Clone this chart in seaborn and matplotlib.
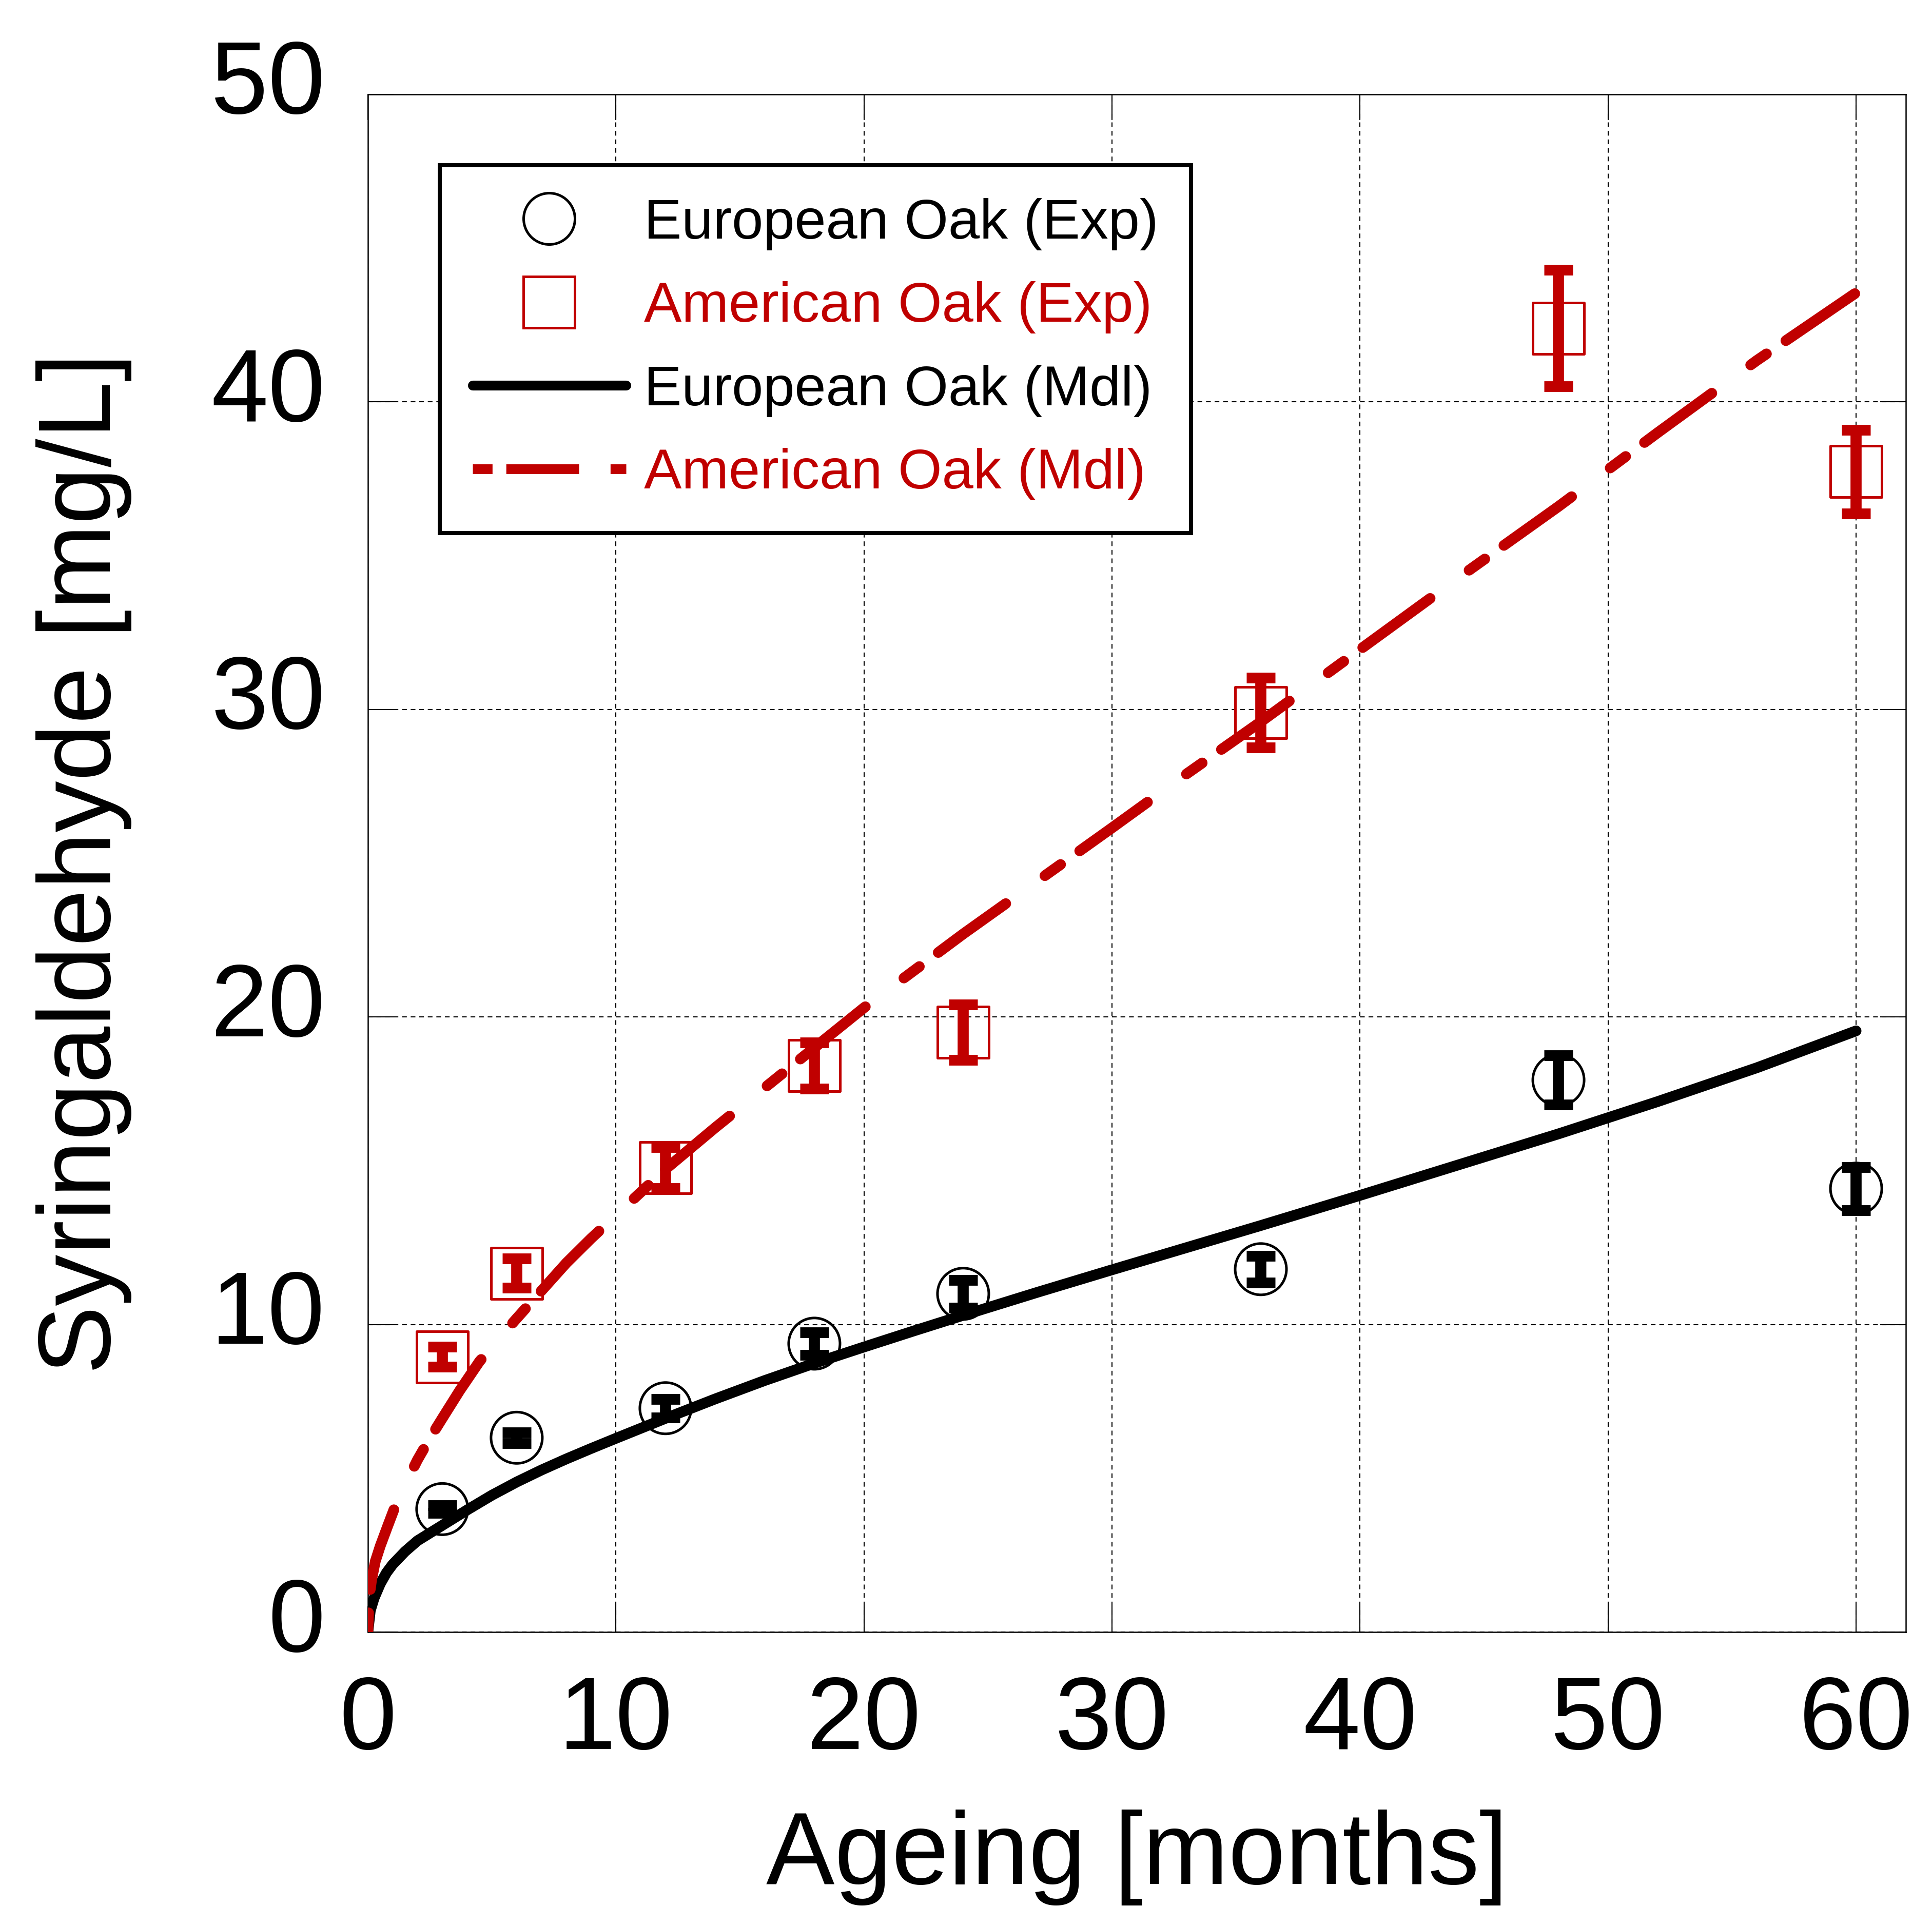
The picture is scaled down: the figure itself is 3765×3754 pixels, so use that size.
import numpy as np
import pandas as pd
import matplotlib

matplotlib.use("Agg")
import matplotlib.pyplot as plt
import matplotlib.transforms as mtransforms
from matplotlib.lines import Line2D
import seaborn as sns

# --- experimental data (mean +/- error) ---
months = [3, 6, 12, 18, 24, 36, 48, 60]
eu_exp = [4.0, 6.32, 7.28, 9.38, 11.0, 11.8, 17.95, 14.42]
eu_err = [0.13, 0.18, 0.3, 0.37, 0.45, 0.43, 0.8, 0.7]
am_exp = [8.95, 11.67, 15.1, 18.42, 19.5, 29.9, 42.4, 37.73]
am_err = [0.32, 0.48, 0.67, 0.75, 0.9, 1.13, 1.9, 1.36]

# --- model curves ---
eu_mdl_t = [0, 0.1, 0.25, 0.5, 0.75, 1, 1.5, 2, 2.5, 3, 4, 5, 6, 7, 8, 9,
            10, 12, 14, 16, 18, 20, 22, 24, 27, 30, 33, 36, 40, 44, 48, 52,
            56, 60]
eu_mdl_y = [0, 0.7, 1.1, 1.57, 1.93, 2.2, 2.62, 2.97, 3.22, 3.47, 3.97,
            4.45, 4.88, 5.27, 5.63, 5.97, 6.3, 6.95, 7.58, 8.18, 8.74, 9.27,
            9.79, 10.3, 11.05, 11.78, 12.5, 13.22, 14.2, 15.2, 16.2, 17.25,
            18.35, 19.55]
am_mdl_t = [0, 0.05, 0.15, 0.3, 0.5, 0.8, 1.2, 1.6, 2, 2.5, 3, 3.7, 4.5,
            5.4, 6, 7, 8, 9, 10, 11, 12, 14, 16, 18, 20, 22, 24, 26, 28, 30,
            33, 36, 40, 44, 48, 52, 56, 60]
am_mdl_y = [0, 1.1, 1.7, 2.3, 2.8, 3.45, 4.3, 4.95, 5.6, 6.3, 6.95, 7.85,
            8.8, 9.65, 10.2, 11.1, 12.0, 12.8, 13.55, 14.3, 15.05, 16.4,
            17.7, 19.0, 20.3, 21.5, 22.7, 23.85, 25.0, 26.15, 27.9, 29.6,
            31.95, 34.3, 36.6, 39.0, 41.35, 43.55]

x_ticks = [0, 10, 20, 30, 40, 50, 60]
y_ticks = [0, 10, 20, 30, 40, 50]

RED = "#C00000"
BLACK = "#000000"
RED_DASH = (0, (1.8, 2.2, 7.8, 4.5))

sns.set_theme(style="white")
plt.rcParams["font.family"] = ["Liberation Sans", "DejaVu Sans"]

fig = plt.figure(figsize=(3765 / 300, 3754 / 300), dpi=300)
ax = fig.add_axes([0.1904, 0.1526, 0.7960, 0.7984])

df_exp = pd.DataFrame({"t": months, "eu": eu_exp, "eu_err": eu_err,
                       "am": am_exp, "am_err": am_err})
df_eu = pd.DataFrame({"t": eu_mdl_t, "y": eu_mdl_y})
df_am = pd.DataFrame({"t": am_mdl_t, "y": am_mdl_y})

# markers
sns.scatterplot(data=df_exp, x="t", y="eu", marker="o", s=24 ** 2,
                color=BLACK, facecolor="none", edgecolor=BLACK,
                linewidth=1.2, zorder=3, ax=ax)
sns.scatterplot(data=df_exp, x="t", y="am", marker="s", s=24 ** 2,
                color=RED, facecolor="none", edgecolor=RED,
                linewidth=1.2, zorder=3, ax=ax)

# error bars
ax.errorbar(df_exp["t"], df_exp["eu"], yerr=df_exp["eu_err"], fmt="none",
            ecolor=BLACK, elinewidth=5.2, capsize=6.7, capthick=5.0, zorder=4)
ax.errorbar(df_exp["t"], df_exp["am"], yerr=df_exp["am_err"], fmt="none",
            ecolor=RED, elinewidth=5.2, capsize=6.7, capthick=5.0, zorder=4)

# model lines
sns.lineplot(data=df_eu, x="t", y="y", color=BLACK, linewidth=5.0,
             solid_capstyle="round", solid_joinstyle="round", sort=False,
             estimator=None, zorder=5, ax=ax)
sns.lineplot(data=df_am, x="t", y="y", color=RED, linewidth=5.0,
             linestyle=RED_DASH, dash_capstyle="round",
             dash_joinstyle="round", sort=False, estimator=None, zorder=6,
             ax=ax)

ax.set_xlim(0, 62)
ax.set_ylim(0, 50)
ax.set_xticks(x_ticks)
ax.set_yticks(y_ticks)
ax.set_xticklabels([str(v) for v in x_ticks])
ax.set_yticklabels([str(v) for v in y_ticks])

ax.grid(True, color="black", linewidth=0.5, linestyle=(0, (4.4, 3.6)))
ax.set_axisbelow(True)
for sp in ax.spines.values():
    sp.set_visible(True)
    sp.set_color("black")
    sp.set_linewidth(0.6)

ax.tick_params(axis="both", direction="in", length=12, width=0.5,
               colors="black", labelsize=48, pad=20,
               top=True, right=True, bottom=True, left=True)

ax.set_xlabel("Ageing [months]", fontsize=48, color="black")
ax.set_ylabel("Syringaldehyde [mg/L]", fontsize=48, color="black")
ax.xaxis.set_label_coords(0.5, -0.1154)
ax.yaxis.set_label_coords(-0.1535, 0.5)

handles = [
    Line2D([], [], linestyle="none", marker="o", markersize=24,
           markerfacecolor="none", markeredgecolor=BLACK,
           markeredgewidth=1.2, label="European Oak (Exp)"),
    Line2D([], [], linestyle="none", marker="s", markersize=24,
           markerfacecolor="none", markeredgecolor=RED,
           markeredgewidth=1.2, label="American Oak (Exp)"),
    Line2D([], [], color=BLACK, linewidth=4.6, label="European Oak (Mdl)"),
    Line2D([], [], color=RED, linewidth=4.6, linestyle=(0, (2.0, 1.4, 7.4, 3.2)),
           dash_capstyle="butt", label="American Oak (Mdl)"),
]
leg = ax.legend(handles=handles, loc="upper left",
                bbox_to_anchor=(0.0467, 0.9540), borderaxespad=0,
                fontsize=26.4, handlelength=2.72, handletextpad=0.32,
                borderpad=0.58, labelspacing=0.55, numpoints=1,
                frameon=True, fancybox=False, framealpha=1,
                edgecolor="black")
leg.get_frame().set_linewidth(1.9)
for txt, c in zip(leg.get_texts(), [BLACK, RED, BLACK, RED]):
    txt.set_color(c)

# y tick labels sit a little above their ticks in the original
shift = mtransforms.ScaledTranslation(0, 35 / 300, fig.dpi_scale_trans)
for lbl in ax.get_yticklabels():
    lbl.set_transform(lbl.get_transform() + shift)

fig.savefig("out.png", dpi=300, facecolor="white")
plt.close(fig)
